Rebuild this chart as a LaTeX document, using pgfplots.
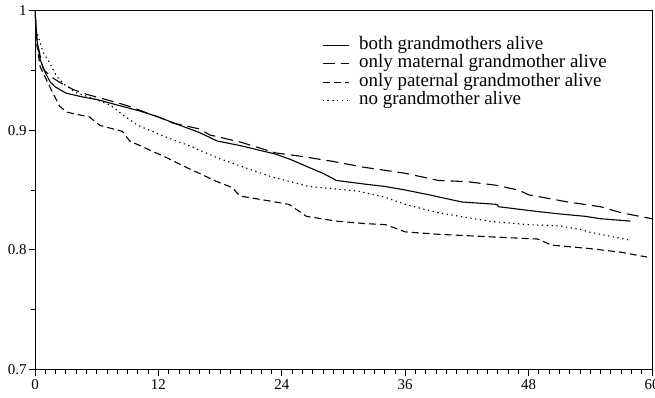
\documentclass[border=0pt]{standalone}
\usepackage{fontspec}
\setmainfont{Liberation Serif}
\usepackage{pgfplots}
\pgfplotsset{compat=1.18}
\begin{document}
\begin{tikzpicture}
\begin{axis}[
  scale only axis, width=617bp, height=359bp,
  xmin=0, xmax=60, ymin=0.7, ymax=1,
  xtick={0,12,24,36,48,60}, minor x tick num=11,
  ytick={0.7,0.8,0.9,1}, minor y tick num=1,
  tick align=outside, tick pos=left,
  major tick length=6bp, minor tick length=4bp,
  every tick/.style={black, line width=0.8bp},
  axis line style={line width=0.9bp},
  tick label style={font=\fontsize{15}{17}\selectfont},
  /pgf/number format/assume math mode=true,
  yticklabel style={/pgf/number format/fixed, /pgf/number format/precision=1, xshift=1bp},
  xticklabel style={yshift=-1bp},
  legend cell align=left,
  legend style={at={(0.465,0.93)}, anchor=north west, draw=none, fill=none,
    font=\fontsize{19}{21}\selectfont, row sep=0pt, column sep=9bp, inner sep=0pt,
    nodes={inner sep=1bp, text height=12.5bp, text depth=4bp}},
  legend image code/.code={\draw[#1] (0bp,0bp) -- (26bp,0bp);},
]
\addplot[black, line width=1.1bp] coordinates {
(0,1)(0.2,0.975)(0.5,0.959)(1,0.948)(1.5,0.940)(2,0.936)(3,0.931)(4.5,0.928)(6.3,0.925)(8,0.921)(10.2,0.916)(12,0.911)(13.8,0.905)(16,0.898)(17.7,0.891)(20,0.887)(23.4,0.880)(25,0.875)(26.6,0.869)(28,0.864)(29.3,0.858)(32,0.855)(34,0.853)(36,0.850)(38.3,0.846)(41.5,0.840)(44.9,0.838)(45.1,0.836)(48.9,0.832)(51,0.830)(53.5,0.828)(55,0.826)(57.9,0.824)
};
\addlegendentry{both grandmothers alive}
\addplot[black, line width=1.1bp, dash pattern=on 12bp off 6bp] coordinates {
(0,1)(0.2,0.975)(0.5,0.962)(0.8,0.951)(1.5,0.945)(2.4,0.940)(3.7,0.934)(5,0.930)(6.3,0.927)(8,0.923)(9.5,0.919)(11,0.914)(12,0.911)(13.4,0.906)(16,0.901)(17,0.896)(20,0.890)(23.4,0.881)(26,0.878)(28.9,0.874)(32,0.869)(36,0.864)(39.2,0.858)(42,0.857)(44.8,0.854)(47,0.850)(48,0.846)(51.8,0.840)(55,0.836)(57,0.831)(60,0.826)
};
\addlegendentry{only maternal grandmother alive}
\addplot[black, line width=1.1bp, dash pattern=on 7bp off 4bp] coordinates {
(0,1)(0.2,0.97)(0.5,0.953)(1.45,0.936)(2.4,0.920)(3.1,0.915)(5.3,0.911)(6.3,0.904)(8.5,0.899)(9.2,0.891)(11,0.884)(12.8,0.877)(14.7,0.869)(16.7,0.861)(17.7,0.857)(19.2,0.852)(19.9,0.845)(22,0.842)(24.7,0.838)(26.4,0.828)(29.3,0.824)(32,0.822)(34.1,0.821)(36,0.815)(39.2,0.813)(44,0.811)(48.9,0.809)(50.2,0.804)(54,0.801)(57,0.798)(59.5,0.794)
};
\addlegendentry{only paternal grandmother alive}
\addplot[black, line width=1.1bp, dash pattern=on 1.3bp off 3.5bp] coordinates {
(0,1)(0.1,0.984)(0.8,0.965)(1.5,0.955)(2.1,0.945)(3,0.937)(4.1,0.931)(5.5,0.927)(7.3,0.921)(8.5,0.913)(10,0.904)(12.8,0.894)(15,0.887)(17.7,0.877)(20,0.870)(23,0.861)(26.6,0.853)(31.5,0.849)(34,0.844)(36,0.838)(39.2,0.831)(42,0.827)(44.1,0.824)(48,0.821)(51,0.820)(53.1,0.817)(53.8,0.815)(57.9,0.808)
};
\addlegendentry{no grandmother alive}
\end{axis}
\pgfresetboundingbox
\path[use as bounding box] ([shift={(-35bp,-28bp)}]current axis.south west) rectangle ([shift={(3bp,10.5bp)}]current axis.north east);
\end{tikzpicture}
\end{document}
